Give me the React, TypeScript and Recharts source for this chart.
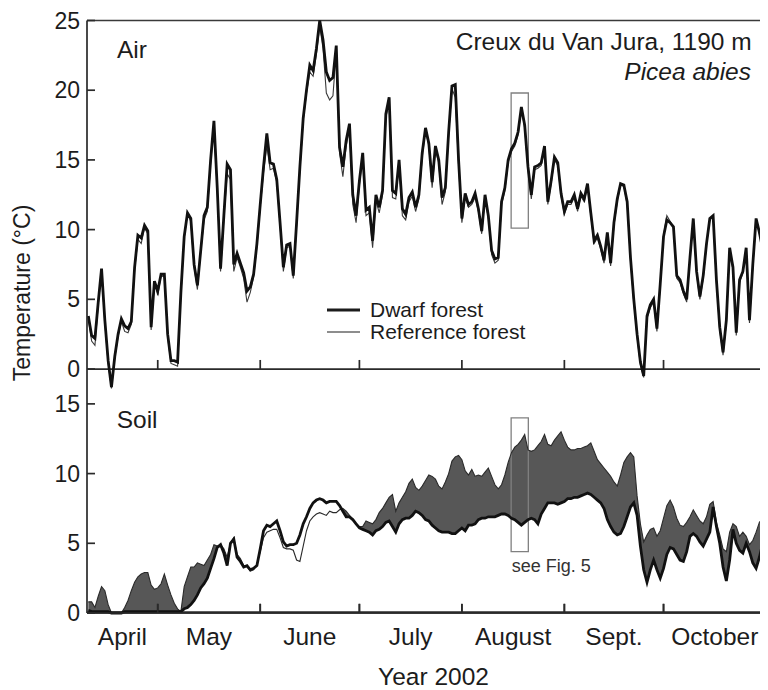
import {
  ComposedChart,
  Line,
  Area,
  XAxis,
  YAxis,
  ReferenceLine,
  ReferenceArea,
  Legend,
} from "recharts";

const FONT = "'Liberation Sans', Arial, Helvetica, sans-serif";
const INK = "#1c1c1c";

// daily means, first value is day of year 100 (10 April 2002)
const FIRST_DAY = 100;

const airDwarf = [
  3.8, 2.4, 2.2, 4.8, 7.2, 3.5, 0.6, -1.3, 0.9, 2.5, // 100
  3.6, 3.1, 2.9, 3.4, 7.3, 9.6, 9.4, 10.3, 9.9, 3.0, // 110
  6.3, 5.6, 6.8, 6.8, 2.5, 0.6, 0.6, 0.5, 5.5, 9.5, // 120
  11.2, 10.8, 7.5, 6.0, 8.5, 11.0, 11.6, 15.0, 17.8, 13.0, // 130
  7.2, 11.0, 14.7, 14.3, 7.5, 8.3, 7.6, 6.9, 5.6, 5.9, // 140
  6.8, 9.0, 11.8, 14.5, 16.9, 14.8, 14.7, 13.6, 10.5, 7.3, // 150
  8.9, 9.0, 6.7, 10.5, 14.5, 18.0, 20.0, 21.8, 21.4, 23.0, // 160
  25.0, 23.6, 21.3, 20.7, 20.9, 23.2, 15.9, 14.5, 16.4, 17.6, // 170
  12.5, 11.0, 13.5, 15.5, 11.4, 11.6, 9.2, 12.5, 11.6, 12.8, // 180
  18.3, 19.5, 12.8, 12.6, 15.0, 11.5, 11.1, 12.3, 12.7, 11.6, // 190
  12.5, 15.5, 17.3, 16.2, 13.4, 16.0, 15.0, 12.3, 13.0, 17.0, // 200
  20.3, 20.4, 15.0, 10.8, 12.6, 11.8, 12.0, 12.6, 11.5, 9.9, // 210
  12.5, 11.0, 8.5, 7.9, 8.0, 12.0, 13.0, 15.0, 15.8, 16.2, // 220
  17.0, 18.8, 17.5, 14.5, 12.5, 14.5, 14.6, 14.8, 16.0, 12.0, // 230
  13.5, 15.2, 14.8, 12.6, 11.3, 12.0, 12.0, 12.5, 11.5, 12.6, // 240
  12.2, 13.3, 11.2, 9.2, 9.6, 8.8, 7.8, 9.8, 7.6, 10.5, // 250
  12.2, 13.3, 13.2, 12.0, 8.0, 5.0, 2.5, 0.5, -0.5, 3.8, // 260
  4.6, 5.0, 2.9, 6.1, 9.5, 10.7, 10.5, 10.2, 6.7, 6.4, // 270
  5.6, 5.0, 8.0, 10.8, 7.0, 5.2, 6.7, 9.0, 10.8, 11.0, // 280
  6.4, 3.0, 1.2, 3.5, 8.7, 7.3, 2.6, 6.4, 7.0, 8.7, // 290
  3.5, 7.5, 10.8, 9.8, 8.6, 6.4, // 300
];

const airReference = [
  3.6, 2.0, 1.7, 4.6, 7.0, 3.3, 0.4, -1.4, 0.8, 2.3,
  3.4, 2.7, 2.6, 3.2, 7.1, 9.3, 9.0, 10.1, 9.7, 2.8,
  6.2, 5.3, 6.7, 6.6, 2.3, 0.4, 0.3, 0.2, 5.3, 9.4,
  11.1, 10.6, 7.3, 5.7, 8.4, 10.7, 11.3, 14.8, 17.4, 12.8,
  7.0, 10.8, 14.0, 13.6, 7.0, 8.0, 7.3, 6.5, 4.8, 5.5,
  6.6, 8.8, 11.6, 14.1, 16.0, 14.3, 14.4, 13.4, 10.3, 7.0,
  8.7, 8.8, 6.5, 10.3, 14.3, 17.8, 19.8, 21.3, 21.0, 22.6,
  24.6, 23.0, 19.8, 19.3, 19.6, 22.8, 15.5, 13.8, 16.0, 17.2,
  11.8, 10.5, 13.2, 15.2, 11.0, 11.2, 8.7, 12.1, 11.2, 12.5,
  18.0, 19.2, 12.3, 12.2, 14.7, 11.0, 10.7, 12.0, 12.4, 11.3,
  12.2, 15.2, 17.1, 16.0, 13.0, 15.7, 14.8, 11.8, 12.7, 16.8,
  20.1, 19.5, 14.6, 10.5, 12.3, 11.6, 11.8, 12.3, 11.3, 9.7,
  12.3, 10.8, 8.2, 7.6, 7.8, 11.8, 12.8, 14.8, 15.6, 16.0,
  16.8, 18.6, 17.3, 14.3, 12.2, 14.3, 14.4, 14.6, 15.8, 11.8,
  13.3, 15.0, 14.6, 12.4, 11.1, 11.8, 11.8, 12.3, 11.3, 12.4,
  12.0, 13.1, 11.0, 9.0, 9.4, 8.6, 7.6, 9.6, 7.4, 10.3,
  12.0, 13.2, 13.1, 11.8, 7.8, 4.8, 2.3, 0.3, -0.6, 3.6,
  4.4, 4.8, 2.7, 6.0, 9.6, 11.0, 10.6, 10.1, 6.5, 6.2,
  5.4, 4.8, 7.9, 10.7, 6.8, 5.0, 6.5, 8.9, 10.7, 10.9,
  6.2, 2.8, 1.0, 3.3, 8.6, 7.1, 2.4, 6.2, 6.9, 8.6,
  3.3, 7.3, 10.7, 9.7, 8.5, 6.3,
];

const soilDwarf = [
  0.2, 0.1, 0.1, 0.1, 0.1, 0.1, 0.1, 0.0, 0.0, 0.0, // 100
  0.0, 0.1, 0.1, 0.1, 0.1, 0.1, 0.1, 0.1, 0.1, 0.1, // 110
  0.1, 0.1, 0.1, 0.1, 0.1, 0.1, 0.1, 0.1, 0.1, 0.3, // 120
  0.4, 0.6, 0.9, 1.3, 1.8, 2.1, 2.5, 3.2, 3.9, 4.7, // 130
  4.9, 4.3, 3.4, 5.0, 5.3, 4.0, 3.7, 3.3, 3.4, 3.1, // 140
  3.2, 3.4, 4.6, 5.9, 6.3, 6.2, 6.4, 6.6, 5.9, 5.1, // 150
  4.8, 4.9, 4.9, 5.0, 5.6, 6.4, 6.9, 7.5, 7.9, 8.1, // 160
  8.2, 8.1, 7.9, 8.0, 8.0, 8.0, 7.7, 7.3, 6.9, 6.9, // 170
  6.7, 6.4, 6.1, 6.0, 5.9, 5.8, 5.6, 5.9, 6.0, 6.2, // 180
  6.5, 6.6, 6.2, 5.8, 6.4, 6.7, 6.8, 6.8, 7.0, 7.3, // 190
  7.2, 7.0, 6.7, 6.6, 6.3, 6.1, 5.9, 5.8, 5.8, 5.8, // 200
  5.7, 5.7, 5.9, 6.1, 5.9, 6.3, 6.3, 6.4, 6.7, 6.8, // 210
  6.8, 6.9, 6.9, 6.9, 7.0, 7.1, 7.1, 7.0, 6.8, 6.7, // 220
  6.5, 6.3, 6.5, 6.7, 6.8, 6.7, 6.4, 7.1, 7.5, 7.9, // 230
  7.9, 7.9, 7.8, 7.9, 8.0, 8.2, 8.2, 8.3, 8.3, 8.4, // 240
  8.5, 8.6, 8.5, 8.3, 8.1, 7.9, 7.5, 6.7, 6.2, 5.8, // 250
  5.6, 5.7, 6.2, 6.9, 7.6, 7.9, 7.0, 4.8, 3.1, 2.2, // 260
  3.1, 3.8, 3.1, 2.5, 3.2, 4.2, 4.7, 4.6, 4.2, 3.8, // 270
  3.7, 4.4, 5.5, 5.7, 5.5, 5.1, 4.8, 5.3, 5.8, 7.6, // 280
  6.2, 5.0, 3.3, 2.3, 3.8, 6.0, 5.0, 4.5, 4.3, 5.0, // 290
  4.4, 3.6, 3.2, 4.0, 5.0, 6.0, // 300
];

const soilReference = [
  0.8, 0.8, 0.4, 1.2, 1.9, 1.6, 0.6, 0.0, 0.0, 0.0,
  0.0, 0.4, 0.9, 1.6, 2.2, 2.6, 2.8, 2.9, 2.9, 2.0,
  1.7, 1.8, 2.1, 2.8, 2.0, 1.3, 0.7, 0.3, 0.1, 1.9,
  2.6, 3.3, 3.3, 3.6, 3.5, 3.4, 3.8, 4.2, 4.9, 4.8,
  4.9, 4.6, 4.0, 5.0, 5.4, 4.2, 3.9, 3.4, 3.3, 3.0,
  3.1, 3.5, 4.4, 5.4, 5.8, 5.9, 6.0, 6.0, 5.4, 4.7,
  4.6, 4.6, 4.5, 3.8, 3.7, 4.8, 5.9, 6.6, 6.9, 7.1,
  7.2, 7.1, 7.0, 7.3, 7.2, 7.2, 7.4, 7.5, 7.3, 7.0,
  6.7, 6.4, 6.2, 6.2, 6.6, 6.5, 6.4, 6.7, 7.2, 7.5,
  7.9, 8.3, 8.5, 7.3, 7.9, 8.3, 8.7, 9.3, 9.6, 9.0,
  8.8, 9.1, 9.5, 9.9, 9.8, 9.6, 9.1, 8.9, 9.4, 10.0,
  10.9, 11.2, 11.3, 11.0, 10.2, 9.9, 10.3, 9.8, 9.9, 9.8,
  10.1, 10.4, 9.8, 9.2, 8.9, 9.2, 9.9, 10.8, 11.5, 11.9,
  12.1, 12.4, 12.8, 11.7, 11.6, 11.7, 12.0, 12.3, 12.8, 12.1,
  12.0, 12.4, 12.7, 13.0, 12.4, 11.9, 11.7, 11.7, 11.8, 11.8,
  11.9, 12.0, 12.2, 11.6, 11.0, 10.7, 10.4, 10.1, 9.8, 9.4,
  9.1, 9.9, 10.8, 11.2, 11.5, 11.2, 8.4, 6.4, 5.1, 5.6,
  6.0, 6.1, 5.5, 5.9, 6.8, 7.7, 8.1, 7.6, 6.8, 6.3,
  6.2, 6.5, 6.9, 7.4, 7.0, 6.6, 6.4, 6.9, 7.8, 8.0,
  6.5, 5.6, 4.6, 4.4, 5.8, 6.4, 6.2, 5.5, 5.8, 5.5,
  4.9, 5.2, 5.8, 6.5, 6.8, 6.9,
];

// first day of each month (day of year) and where the month names sit
const monthStarts = [121, 152, 182, 213, 244, 274, 305];
const monthLabelDays = [110.3, 136.5, 167, 197.5, 228.5, 259, 289.5];
const monthLabels = ["April", "May", "June", "July", "August", "Sept.", "October"];

// both panels share one plot: the air scale runs -17.5..25, the soil scale 0..42.5,
// so soil 0 sits at the bottom and soil 17.5 meets air 0 at the panel divider
const AIR_DOMAIN: [number, number] = [-17.5, 25];
const SOIL_DOMAIN: [number, number] = [0, 42.5];
const SOIL_SHIFT = 17.5;
const airTicks = [0, 5, 10, 15, 20, 25];
const soilTicks = [0, 5, 10, 15];
const leftTicks = [...soilTicks.map((t) => t - SOIL_SHIFT), ...airTicks];

// the period shown in Fig. 5
const fig5Days = [227.9, 233.1];
const fig5Air = [10.1, 19.8];
const fig5Soil = [4.4, 14.0];

const DAY_DOMAIN: [number, number] = [99.6, 305.6];
const TICK_LEN = 0.65; // inward month tick height, °C (about 9 px)
const TICK_HALF = 0.26; // half the tick width, days (about 1.7 px)

const rows = airDwarf.map((v, i) => ({
  day: FIRST_DAY + i,
  airDwarf: v,
  airReference: airReference[i],
  soilDwarf: soilDwarf[i],
  soilReference: soilReference[i],
  // shaded where the reference forest soil is warmer
  warmer: [soilDwarf[i], Math.max(soilDwarf[i], soilReference[i])],
}));

const W = 760;
const H = 682;
const AXIS_COLOR = "#2a2a2a";

const axisStroke = { stroke: AXIS_COLOR, strokeWidth: 1.7 };
const tickText = { fill: INK, fontSize: 23, fontFamily: FONT };

const lineWidth: Record<string, number> = { airDwarf: 2.8, airReference: 1.1 };
const legendOrder = ["airDwarf", "airReference"];

function SeriesKey({ payload }: { payload?: ReadonlyArray<{ value?: string; dataKey?: unknown }> }) {
  const entries = [...(payload ?? [])]
    .filter((e) => legendOrder.includes(String(e.dataKey)))
    .sort((a, b) => legendOrder.indexOf(String(a.dataKey)) - legendOrder.indexOf(String(b.dataKey)));
  return (
    <div style={{ fontFamily: FONT, fontSize: 21, color: INK }}>
      {entries.map((e) => (
        <div key={String(e.dataKey)} style={{ display: "flex", alignItems: "center", height: 21.7 }}>
          <svg width={33} height={6} style={{ marginRight: 10 }}>
            <line x1={0} x2={33} y1={3} y2={3} stroke={INK} strokeWidth={lineWidth[String(e.dataKey)]} />
          </svg>
          <span style={{ lineHeight: 1, whiteSpace: "nowrap" }}>{e.value}</span>
        </div>
      ))}
    </div>
  );
}

// short inward ticks at each month start, standing on a baseline of the given axis
function monthTicks(yAxisId: string, base: number) {
  return monthStarts.map((d) => (
    <ReferenceArea
      key={`${yAxisId}-${d}`}
      xAxisId="days"
      yAxisId={yAxisId}
      x1={d - TICK_HALF}
      x2={d + TICK_HALF}
      y1={base}
      y2={base + TICK_LEN}
      fill={AXIS_COLOR}
      fillOpacity={1}
      stroke="none"
    />
  ));
}

const note = (extra: React.CSSProperties): React.CSSProperties => ({
  position: "absolute",
  fontFamily: FONT,
  fontSize: 24.5,
  lineHeight: 1,
  color: INK,
  whiteSpace: "nowrap",
  ...extra,
});

export default function App() {
  return (
    <div style={{ position: "relative", width: W, height: H }}>
      <ComposedChart width={W} height={H} data={rows} margin={{ top: 12.5, right: 0, bottom: 75, left: 19 }}>
        <XAxis
          xAxisId="days"
          dataKey="day"
          type="number"
          domain={DAY_DOMAIN}
          ticks={monthStarts}
          interval={0}
          height={1}
          tickSize={-9}
          tickFormatter={() => ""}
          axisLine={axisStroke}
          tickLine={axisStroke}
          tick={tickText}
        />
        <XAxis
          xAxisId="months"
          dataKey="day"
          type="number"
          domain={DAY_DOMAIN}
          allowDataOverflow
          ticks={monthLabelDays}
          interval={0}
          height={1}
          tickSize={0}
          tickMargin={13.5}
          axisLine={false}
          tickLine={false}
          tickFormatter={(v: number) => monthLabels[monthLabelDays.indexOf(v)] ?? ""}
          tick={{ ...tickText, fontSize: 24.5 }}
        />
        <YAxis
          yAxisId="air"
          type="number"
          domain={AIR_DOMAIN}
          ticks={leftTicks}
          interval={0}
          width={60}
          tickSize={-8}
          tickMargin={15}
          axisLine={axisStroke}
          tickLine={axisStroke}
          tick={tickText}
          tickFormatter={(v: number) => String(v < 0 ? v + SOIL_SHIFT : v)}
        />
        <YAxis yAxisId="soil" type="number" domain={SOIL_DOMAIN} hide />

        <ReferenceLine xAxisId="days" yAxisId="air" y={25} stroke="#3a3a3a" strokeWidth={1.7} />
        <ReferenceLine xAxisId="days" yAxisId="air" y={0} stroke={AXIS_COLOR} strokeWidth={1.7} />
        <ReferenceLine xAxisId="days" yAxisId="soil" y={0} stroke={AXIS_COLOR} strokeWidth={1.7} ifOverflow="visible" />

        <Area
          xAxisId="days"
          yAxisId="soil"
          dataKey="warmer"
          type="linear"
          fill="#575757"
          fillOpacity={1}
          stroke="none"
          legendType="none"
          isAnimationActive={false}
        />
        <Line
          xAxisId="days"
          yAxisId="soil"
          dataKey="soilReference"
          type="linear"
          stroke="#2a2a2a"
          strokeWidth={1.1}
          dot={false}
          activeDot={false}
          legendType="none"
          isAnimationActive={false}
        />
        <Line
          xAxisId="days"
          yAxisId="soil"
          dataKey="soilDwarf"
          type="linear"
          stroke="#111"
          strokeWidth={2.8}
          dot={false}
          activeDot={false}
          legendType="none"
          isAnimationActive={false}
        />
        <Line
          xAxisId="days"
          yAxisId="air"
          dataKey="airReference"
          name="Reference forest"
          type="linear"
          stroke="#3a3a3a"
          strokeWidth={lineWidth.airReference}
          dot={false}
          activeDot={false}
          isAnimationActive={false}
        />
        <Line
          xAxisId="days"
          yAxisId="air"
          dataKey="airDwarf"
          name="Dwarf forest"
          type="linear"
          stroke="#111"
          strokeWidth={lineWidth.airDwarf}
          dot={false}
          activeDot={false}
          isAnimationActive={false}
        />

        {monthTicks("air", 0)}
        {monthTicks("soil", 0.02)}
        <ReferenceArea
          xAxisId="days"
          yAxisId="soil"
          x1={DAY_DOMAIN[0] + 0.01}
          x2={DAY_DOMAIN[1] - 0.01}
          y1={0.001}
          y2={0.12}
          fill={AXIS_COLOR}
          fillOpacity={1}
          stroke="none"
        />
        <ReferenceArea
          xAxisId="days"
          yAxisId="air"
          x1={fig5Days[0]}
          x2={fig5Days[1]}
          y1={fig5Air[0]}
          y2={fig5Air[1]}
          fill="none"
          stroke="#808080"
          strokeWidth={1.3}
        />
        <ReferenceArea
          xAxisId="days"
          yAxisId="soil"
          x1={fig5Days[0]}
          x2={fig5Days[1]}
          y1={fig5Soil[0]}
          y2={fig5Soil[1]}
          fill="none"
          stroke="#808080"
          strokeWidth={1.3}
        />
        <Legend
          content={SeriesKey}
          layout="horizontal"
          verticalAlign="middle"
          align="center"
          wrapperStyle={{ left: 319, top: 291, width: "auto" }}
        />
      </ComposedChart>

      <div style={note({ left: 109, top: 30.2 })}>Air</div>
      <div style={note({ left: 108.7, top: 400.2 })}>Soil</div>
      <div style={note({ right: 16.3, top: 21.9 })}>Creux du Van Jura, 1190 m</div>
      <div style={note({ right: 17, top: 51.9, fontStyle: "italic" })}>Picea abies</div>
      <div style={note({ left: 503.7, top: 549.2, fontSize: 18, color: "#333" })}>see Fig. 5</div>
      <div style={note({ left: 425.5, top: 657.2, transform: "translateX(-50%)" })}>Year 2002</div>
      <div style={note({ left: 14, top: 285, fontSize: 23, transform: "translate(-50%, -50%) rotate(-90deg)" })}>
        Temperature (°C)
      </div>
    </div>
  );
}
